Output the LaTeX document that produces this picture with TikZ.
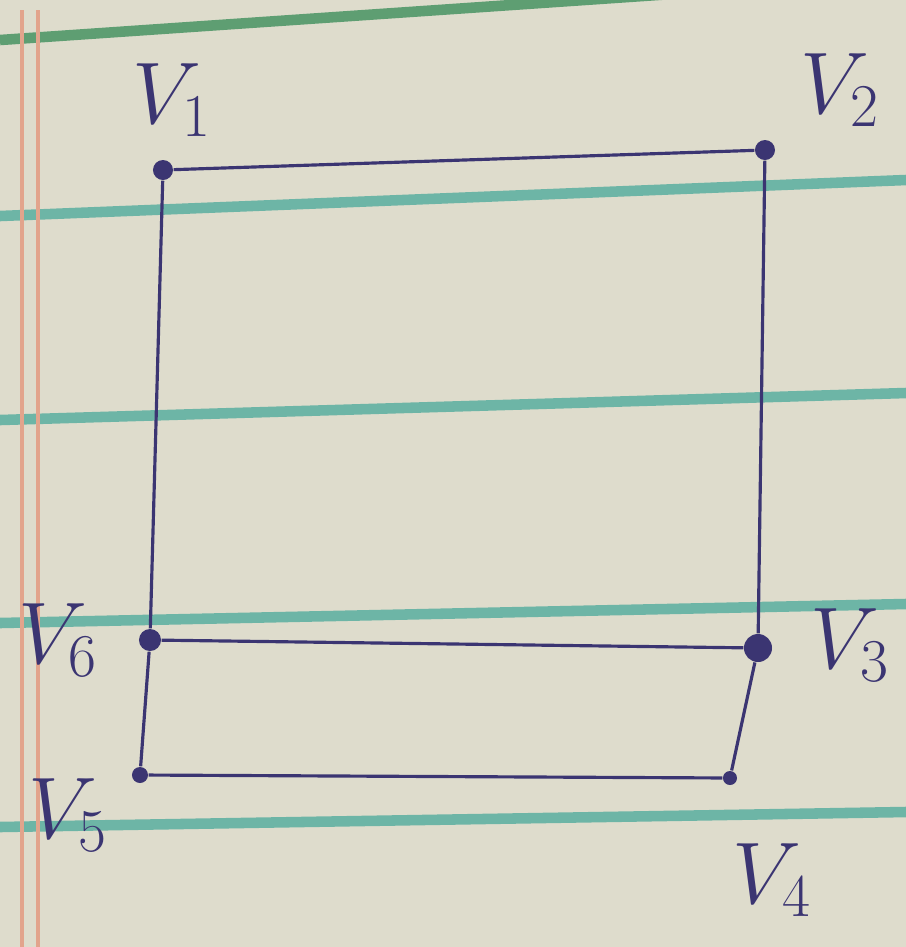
\documentclass[tikz,border=0pt]{standalone}
\definecolor{paper}{HTML}{DEDCCC}
\definecolor{ink}{HTML}{3B3572}
\definecolor{rulecol}{HTML}{6DB5A6}
\definecolor{toprule}{HTML}{5E9E72}
\definecolor{margin}{HTML}{E2A48C}
\tikzset{
  vertex/.style={circle,fill=ink,inner sep=0pt,minimum size=#1},
  edge/.style={draw=ink,line width=0.9pt},
  vlabel/.style={text=ink,font=\fontsize{24}{28}\selectfont},
}
\begin{document}
\begin{tikzpicture}[x=0.01cm,y=-0.01cm]
    \fill[paper] (0,0) rectangle (906,947);
    \begin{scope}
        \clip (0,0) rectangle (906,947);
        \draw[toprule,line width=3pt] (0,40) -- (906,-22);
        \foreach \yl/\yr in {216/180,420/393,623/604,827/812} {
            \draw[rulecol,line width=3pt] (0,\yl) -- (906,\yr);
        }
        \draw[margin,line width=1.2pt] (22,10) -- (22,947);
        \draw[margin,line width=1.2pt] (38,10) -- (38,947);
    \end{scope}
    \foreach \n/\x/\y/\s in {
        v1/163/170/0.2cm,
        v2/765/150/0.2cm,
        v3/758/648/0.28cm,
        v4/730/778/0.14cm,
        v5/140/775/0.16cm,
        v6/150/640/0.22cm
    } {
        \node[vertex=\s] (\n) at (\x,\y) {};
    }
    \foreach \a/\b in {v1/v2,v1/v6,v2/v3,v6/v3,v6/v5,v3/v4,v5/v4} {
        \draw[edge] (\a) -- (\b);
    }
    \foreach \n/\x/\y/\k in {
        l1/172/100/1,
        l2/840/90/2,
        l3/850/645/3,
        l4/772/880/4,
        l5/68/815/5,
        l6/58/640/6
    } {
        \node[vlabel] (\n) at (\x,\y) {$V_{\k}$};
    }
\end{tikzpicture}
\end{document}
